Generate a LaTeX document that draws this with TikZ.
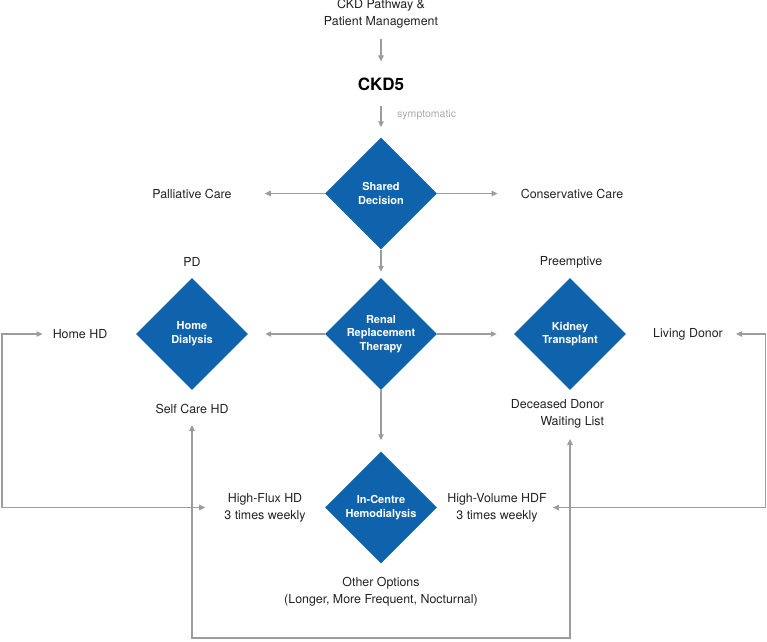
\documentclass[tikz,border=0pt]{standalone}
\usepackage{fontspec}
\setmainfont{TeX Gyre Heros}
\usetikzlibrary{shapes.geometric,arrows.meta,calc}
\definecolor{dblue}{HTML}{0F62AC}
\definecolor{agray}{HTML}{9C9C9C}
\definecolor{tgray}{HTML}{222222}
\definecolor{sgray}{HTML}{AAAAAA}
\begin{document}
\begin{tikzpicture}[x=1pt,y=-1pt,
  dia/.style={diamond, aspect=1, minimum width=112pt, minimum height=112pt, inner sep=0pt,
    fill=dblue, text=white, font=\fontsize{11}{13.8}\selectfont\bfseries, align=center},
  lbl/.style={inner sep=0pt, text=tgray, font=\fontsize{12.4}{17}\selectfont, align=center},
  tip/.tip={Triangle[length=6pt,width=5.5pt]},
  arr/.style={draw=agray, line width=1.2pt, -tip},
  darr/.style={draw=agray, line width=1.2pt, tip-tip}]
\useasboundingbox (0,0) rectangle (767,641);
\coordinate (lx) at (2,0);
\coordinate (rx) at (765.5,0);
\coordinate (bot) at (0,638);
% top
\node[lbl] (title) at (381,13.5) {CKD Pathway \&\\Patient Management};
\node[lbl, text=black, font=\fontsize{17}{20}\selectfont\bfseries] (ckd) at (381,84) {CKD5};
\node[lbl, anchor=west, text=sgray, font=\fontsize{10.5}{12}\selectfont] (sym) at (397,115) {symptomatic};
% diamonds
\node[dia] (sd) at (381,193.5) {Shared\\Decision};
\node[dia] (rrt) at (381,334) {Renal\\Replacement\\Therapy};
\node[dia] (hd) at (192,334) {Home\\Dialysis};
\node[dia] (kt) at (570,334) {Kidney\\Transplant};
\node[dia] (ic) at (381,507.5) {In-Centre\\Hemodialysis};
% labels
\node[lbl] (pall) at (192,193.5) {Palliative Care};
\node[lbl] (cons) at (572,193.5) {Conservative Care};
\node[lbl] (pd) at (192,262) {PD};
\node[lbl] (pre) at (571,262) {Preemptive};
\node[lbl] (home) at (80,334) {Home HD};
\node[lbl] (ld) at (688,334) {Living Donor};
\node[lbl] (sc) at (192,409) {Self Care HD};
\node[lbl, align=right] (dd) at (557.5,413.5) {Deceased Donor\\Waiting List};
\node[lbl] (hf) at (265,507.5) {High-Flux HD\\3 times weekly};
\node[lbl] (hv) at (497,507.5) {High-Volume HDF\\3 times weekly};
\node[lbl] (oo) at (381,591.5) {Other Options\\(Longer, More Frequent, Nocturnal)};
% connectors
\draw[arr, shorten <=11pt, shorten >=16pt] (title) -- (ckd);
\draw[arr, shorten <=15pt, shorten >=10pt] (ckd) -- (sd);
\draw[arr, shorten >=33pt] (sd) -- (pall);
\draw[arr, shorten >=23pt] (sd) -- (cons);
\draw[arr, shorten >=6pt] (sd) -- (rrt);
\draw[arr, shorten >=17pt] (rrt) -- (hd);
\draw[arr, shorten >=17pt] (rrt) -- (kt);
\draw[arr, shorten >=11pt] (rrt) -- (ic);
\draw[darr, shorten <=10pt, shorten >=19pt] (home.west) -- (home.west -| lx) |- (hf.west);
\draw[darr, shorten <=13pt, shorten >=6pt] (ld.east) -- (ld.east -| rx) |- (hv.east);
\draw[darr, shorten <=11pt, shorten >=11pt] (sc.south) -- (sc.south |- bot) -| (kt |- dd.south);
\end{tikzpicture}
\end{document}
